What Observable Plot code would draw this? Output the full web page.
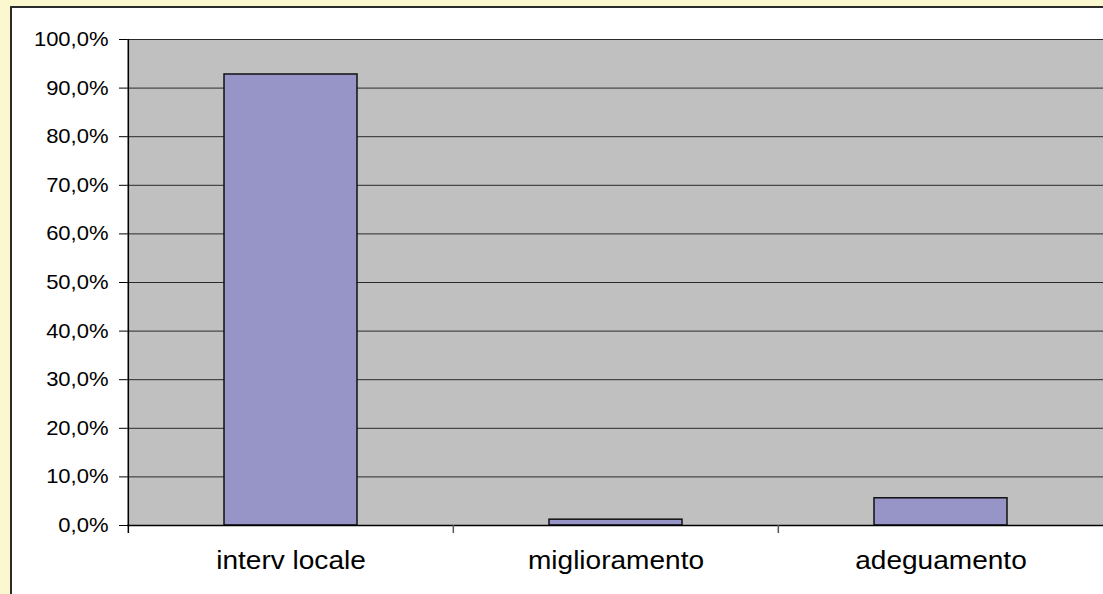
<!DOCTYPE html>
<html>
<head>
<meta charset="utf-8">
<script src="https://cdn.jsdelivr.net/npm/d3@7"></script>
<script src="https://cdn.jsdelivr.net/npm/@observablehq/plot@0.6"></script>
<style>
  html, body { margin: 0; padding: 0; width: 1103px; height: 594px; overflow: hidden; background: #FBF7CF; }
  #panel { position: absolute; left: 10px; top: 6px; width: 1200px; height: 700px; border: 2px solid #2b2b2b; background: #ffffff; }
  #chart { position: absolute; left: 0; top: 0; }
  #chart svg { background: transparent !important; }
</style>
</head>
<body>
<div id="panel"></div>
<div id="chart"></div>
<script>
// Data
const categories = ["interv locale", "miglioramento", "adeguamento"];
const values = [0.928, 0.012, 0.056];
const yTicks = [0, 0.1, 0.2, 0.3, 0.4, 0.5, 0.6, 0.7, 0.8, 0.9, 1.0];

const data = categories.map((c, i) => ({category: c, value: values[i]}));

const W = 1103, H = 594;
const mLeft = 127, mRight = 0, mTop = 39, mBottom = 69;
const step = (W - mLeft - mRight) / categories.length;
const fmt = d => (d * 100).toFixed(1).replace(".", ",") + "%";

const chart = Plot.plot({
  width: W,
  height: H,
  marginLeft: mLeft,
  marginRight: mRight,
  marginTop: mTop,
  marginBottom: mBottom,
  style: {fontFamily: "'Liberation Sans', Arial, sans-serif", background: "transparent", color: "#000"},
  x: {domain: categories, padding: 0, label: null},
  y: {domain: [0, 1], label: null},
  marks: [
    Plot.frame({fill: "#C0C0C0", stroke: null}),
    Plot.ruleY(yTicks.slice(1), {stroke: "#2a2a2a", strokeWidth: 1}),
    Plot.barY(data, {x: "category", y: "value", fill: "#9794C8", stroke: "#111", strokeWidth: 1.5, insetLeft: 96, insetRight: 96}),
    Plot.ruleY([0], {stroke: "#000", strokeWidth: 1.5}),
    // y-axis line (left boundary of first band), extended slightly below zero
    Plot.ruleX([categories[0]], {x: d => d, dx: -step / 2, y1: -0.0165, y2: 1, stroke: "#000", strokeWidth: 1.5}),
    // category separator ticks below the axis
    Plot.ruleX(categories.slice(1), {x: d => d, dx: -step / 2, y1: -0.0165, y2: 0, stroke: "#555", strokeWidth: 1.5}),
    Plot.axisY({ticks: yTicks, tickFormat: fmt, tickSize: 8, tickPadding: 11, fontSize: 20, stroke: "#000", label: null}),
    Plot.axisX({tickSize: 0, tickPadding: 25, fontSize: 25.5, label: null})
  ]
});

document.getElementById("chart").appendChild(chart);

// Slight horizontal stretch of text to match the reference rendering
chart.querySelectorAll("text").forEach(t => {
  const xa = t.getAttribute("x");
  const x = xa != null && !isNaN(+xa) ? +xa : 0;
  if (xa != null && !isNaN(+xa)) t.removeAttribute("x");
  const tr = t.getAttribute("transform") || "";
  t.setAttribute("transform", `${tr} translate(${x},0) scale(1.1,1)`);
});
</script>
</body>
</html>
